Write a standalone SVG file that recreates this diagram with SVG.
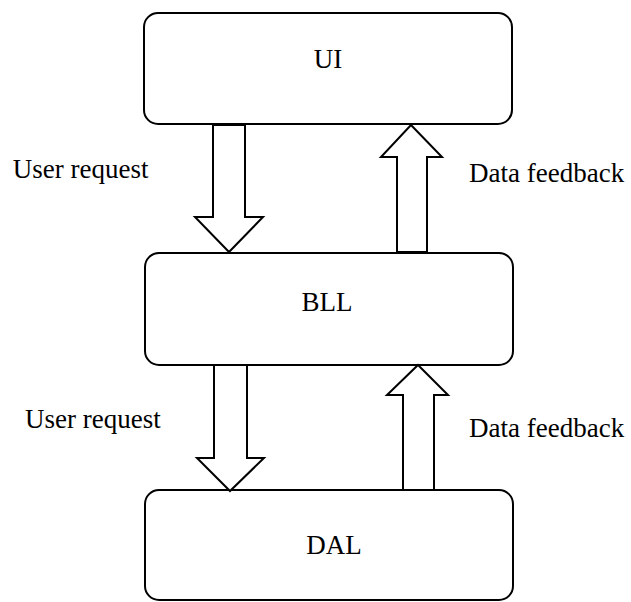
<svg xmlns="http://www.w3.org/2000/svg" width="631" height="602" viewBox="0 0 631 602">
<style>
.box{fill:#fff;stroke:#000;stroke-width:2}
.arr{fill:#fff;stroke:#000;stroke-width:2;stroke-linejoin:miter}
.t{font-family:"Liberation Serif","Times New Roman",serif;font-size:27px;fill:#000}
.c{text-anchor:middle}
</style>
<rect width="631" height="602" fill="#fff"/>
<g id="ui"><rect class="box" x="144" y="13" width="368" height="111" rx="14"/><text class="t c" x="328" y="68">UI</text></g>
<g id="bll"><rect class="box" x="145" y="253" width="368" height="112" rx="14"/><text class="t c" x="327" y="311">BLL</text></g>
<g id="dal"><rect class="box" x="145" y="490" width="368" height="110" rx="14"/><text class="t c" x="334" y="554">DAL</text></g>
<g id="connectors">
<polygon class="arr" points="213,125 245,125 245,217 263,217 229,252 195,217 213,217"/>
<polygon class="arr" points="411,125 442,157 427,157 427,252 397,252 397,157 381,157"/>
<polygon class="arr" points="214,365 247,365 247,458 264,458 230,491 197,458 214,458"/>
<polygon class="arr" points="418,365 448,395 434,395 434,490 403,490 403,395 387,395"/>
<text class="t" x="12.7" y="178">User request</text>
<text class="t" x="469" y="182">Data feedback</text>
<text class="t" x="25" y="428">User request</text>
<text class="t" x="469" y="437">Data feedback</text>
</g>
</svg>
